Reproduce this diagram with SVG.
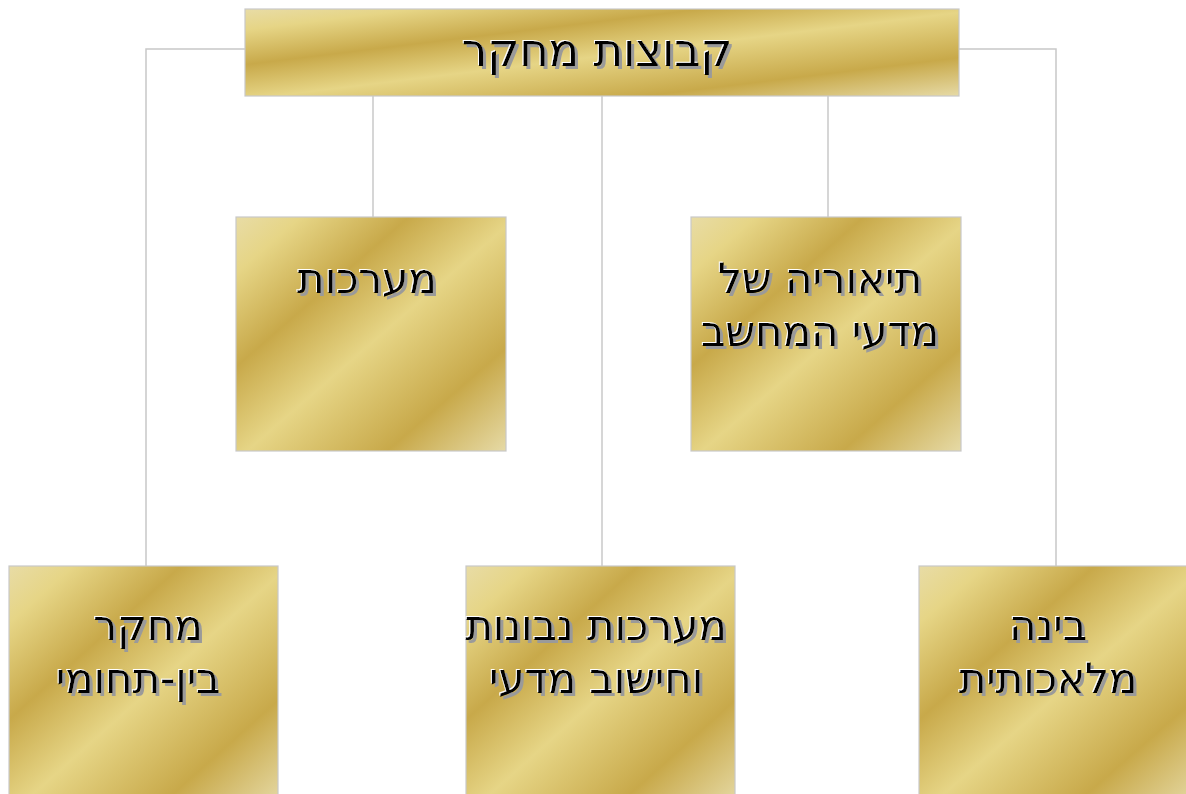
<svg xmlns="http://www.w3.org/2000/svg" width="1186" height="794" viewBox="0 0 1186 794">
<defs>
<linearGradient id="gold" x1="0" y1="0" x2="1" y2="1">
<stop offset="0" stop-color="#e8dca6"/>
<stop offset="0.12" stop-color="#e6d586"/>
<stop offset="0.32" stop-color="#c8a94a"/>
<stop offset="0.52" stop-color="#e6d586"/>
<stop offset="0.78" stop-color="#c8a94a"/>
<stop offset="1" stop-color="#e6daa6"/>
</linearGradient>
<filter id="emboss" x="-10%" y="-30%" width="120%" height="160%">
<feOffset in="SourceAlpha" dx="3" dy="3" result="o1"/>
<feFlood flood-color="#9a9a9a"/>
<feComposite in2="o1" operator="in" result="shadow"/>
<feOffset in="SourceAlpha" dx="-1.5" dy="-1.5" result="o2"/>
<feFlood flood-color="#ffffff"/>
<feComposite in2="o2" operator="in" result="hi"/>
<feMerge>
<feMergeNode in="shadow"/>
<feMergeNode in="hi"/>
<feMergeNode in="SourceGraphic"/>
</feMerge>
</filter>
<style>
.box{fill:url(#gold);stroke:#c8c8c8;stroke-width:1.2}
.conn{fill:none;stroke:#c8c8c8;stroke-width:1.5}
text{font-family:"DejaVu Sans","Liberation Sans",sans-serif;font-size:42px;text-anchor:middle;direction:rtl;fill:#000;filter:url(#emboss)}
.big{font-size:45px}
</style>
</defs>
<g id="connectors">
<path class="conn" d="M245 49 H146 V566"/>
<path class="conn" d="M959 49 H1056 V566"/>
<path class="conn" d="M373 96 V217"/>
<path class="conn" d="M602 96 V566"/>
<path class="conn" d="M828 96 V217"/>
</g>
<g id="root">
<rect class="box" x="245" y="9" width="714" height="87"/>
<text class="big" x="597" y="66">קבוצות מחקר</text>
</g>
<g id="systems">
<rect class="box" x="236" y="217" width="270" height="234"/>
<text x="367" y="293">מערכות</text>
</g>
<g id="theory">
<rect class="box" x="691" y="217" width="270" height="234"/>
<text x="820" y="293">תיאוריה של</text>
<text x="820" y="346">מדעי המחשב</text>
</g>
<g id="interdisciplinary">
<rect class="box" x="9" y="566" width="269" height="240"/>
<text x="148" y="640">מחקר</text>
<text x="138" y="693">בין-תחומי</text>
</g>
<g id="intelligent">
<rect class="box" x="466" y="566" width="269" height="240"/>
<text x="596" y="640">מערכות נבונות</text>
<text x="596" y="693">וחישוב מדעי</text>
</g>
<g id="ai">
<rect class="box" x="919" y="566" width="275" height="240"/>
<text x="1048" y="640">בינה</text>
<text x="1048" y="693">מלאכותית</text>
</g>
</svg>
